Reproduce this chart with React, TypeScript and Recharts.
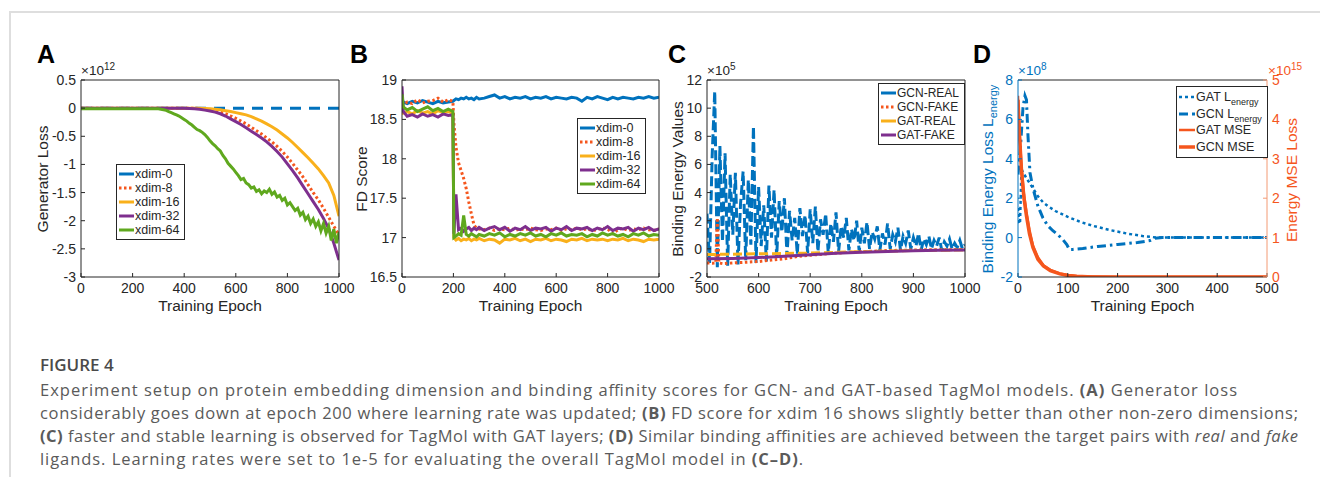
import type { ReactNode } from "react";
import { LineChart, Line, XAxis, YAxis, Legend } from "recharts";

const FONT = "'Liberation Sans', Arial, Helvetica, sans-serif";
const CAPTION_FONT = "'Open Sans', 'Noto Sans', sans-serif";
const AXIS = "#262626";
const BLUE = "#0072BD";
const ORANGE = "#F5561D";
const ORANGE_AXIS = "#F39A74";
const YELLOW = "#F9B01B";
const PURPLE = "#7E2F8E";
const GREEN = "#5FA81E";

const PLOT_TOP = 80;
const PLOT_H = 197;
const X_AXIS_H = 50;
const CHART_H = PLOT_TOP + PLOT_H + X_AXIS_H;

// ---- Panel A: generator loss (x 1e12) ----
const A_X_TICKS = [0, 200, 400, 600, 800, 1000];
const A_Y_TICKS = [-3, -2.5, -2, -1.5, -1, -0.5, 0, 0.5];
const A_EPOCH = [
  0, 20, 40, 60, 80, 100, 120, 140, 160, 180, 200, 220, 240, 260, 280, 300, 320,
  340, 360, 380, 400, 420, 440, 460, 480, 500, 520, 540, 560, 580, 600, 620, 640,
  660, 680, 700, 720, 740, 760, 780, 800, 820, 840, 860, 880, 900, 920, 940, 960,
  980, 1000,
];
const A_XDIM0_EPOCH = [0, 1000];
const A_XDIM0 = [0, 0];
const A_XDIM8 = [
  0, 0, 0, 0, 0, 0, 0, 0, 0, 0, 0, 0, 0, 0, 0, 0, 0, 0, 0, 0, 0, 0, 0,
  -0.01, -0.02, -0.035, -0.05, -0.07, -0.1, -0.14, -0.18, -0.23, -0.28,
  -0.34, -0.4, -0.46, -0.53, -0.6, -0.68, -0.77, -0.87, -0.98, -1.1,
  -1.22, -1.36, -1.5, -1.63, -1.78, -1.94, -2.1, -2.25,
];
const A_XDIM16 = [
  0, 0, 0, 0, 0, 0, 0, 0, 0, 0, 0, 0, 0, 0, 0, 0, 0, 0, 0, 0, 0, 0, 0,
  0, -0.005, -0.01, -0.02, -0.03, -0.045, -0.06, -0.08, -0.1, -0.12,
  -0.15, -0.19, -0.23, -0.28, -0.33, -0.39, -0.46, -0.53, -0.61, -0.7,
  -0.79, -0.88, -0.98, -1.08, -1.2, -1.33, -1.55, -1.92,
];
const A_XDIM32 = [
  0, 0, 0, 0, 0, 0, 0, 0, 0, 0, 0, 0, 0, 0, 0, 0, 0, 0, 0, 0,
  -0.003, -0.005, -0.01, -0.02, -0.035, -0.05, -0.07, -0.1, -0.14, -0.19,
  -0.24, -0.29, -0.35, -0.41, -0.47, -0.53, -0.6, -0.68, -0.77, -0.87,
  -0.99, -1.11, -1.24, -1.38, -1.52, -1.66, -1.8, -1.96, -2.14, -2.4, -2.7,
];
const A_XDIM64_EPOCH = [
  0, 100, 200, 290,
  300, 310, 320, 330, 340, 350, 360, 370, 380, 390,
  400, 410, 420, 430, 440, 450, 460, 470, 480, 490,
  500, 510, 520, 530, 540, 550, 560, 570, 580, 590,
  600, 610, 620, 630, 640, 650, 660, 670, 680, 690,
  700, 710, 720, 730, 740, 750, 760, 770, 780, 790,
  800, 810, 820, 830, 840, 850, 860, 870, 880, 890,
  900, 910, 920, 930, 940, 950, 960, 970, 980, 990, 1000,
];
const A_XDIM64 = [
  -0.01, -0.01, -0.01, -0.01,
  -0.01, -0.02, -0.03, -0.04, -0.06, -0.08, -0.1, -0.12, -0.14, -0.17,
  -0.2, -0.23, -0.27, -0.3, -0.34, -0.38, -0.4, -0.43, -0.47, -0.52,
  -0.58, -0.63, -0.67, -0.72, -0.76, -0.84, -0.9, -0.98, -1.03, -1.08,
  -1.14, -1.2, -1.27, -1.25, -1.33, -1.36, -1.42, -1.4, -1.48, -1.45,
  -1.52, -1.47, -1.5, -1.44, -1.53, -1.49, -1.58, -1.55, -1.64, -1.6,
  -1.72, -1.68, -1.75, -1.82, -1.78, -1.9, -1.85, -1.98, -1.92, -2.05,
  -1.97, -2.1, -2.02, -2.18, -2.05, -2.22, -2.1, -2.35, -2.15, -2.4, -2.2,
];

// ---- Panel B: FD score ----
const B_X_TICKS = [0, 200, 400, 600, 800, 1000];
const B_Y_TICKS = [16.5, 17, 17.5, 18, 18.5, 19];
const B_EPOCH = [
  0, 5, 20, 40, 60, 80, 100, 120, 140, 160, 180, 198, 202, 210, 220, 230, 240,
  250, 260, 270, 280, 290, 300,
  320, 340, 360, 380, 400, 420, 440, 460, 480, 500, 520, 540, 560, 580, 600,
  620, 640, 660, 680, 700, 720, 740, 760, 780, 800, 820, 840, 860, 880, 900,
  920, 940, 960, 980, 1000,
];
const B_XDIM0 = [
  18.75, 18.72, 18.7, 18.73, 18.71, 18.74, 18.72, 18.7, 18.73, 18.71, 18.72,
  18.73, 18.74, 18.76, 18.75, 18.77, 18.76, 18.78, 18.76, 18.77, 18.75, 18.78, 18.76,
  18.77, 18.79, 18.81, 18.77, 18.79, 18.76, 18.78, 18.77, 18.79, 18.76, 18.78,
  18.77, 18.79, 18.76, 18.78, 18.77, 18.76, 18.78, 18.77, 18.73, 18.78, 18.76,
  18.79, 18.77, 18.75, 18.78, 18.76, 18.78, 18.77, 18.76, 18.78, 18.77, 18.79,
  18.77, 18.78,
];
const B_XDIM8 = [
  18.7, 18.68, 18.72, 18.7, 18.75, 18.71, 18.73, 18.74, 18.77, 18.72, 18.75,
  18.73, 18.45, 18.15, 17.95, 17.85, 17.75, 17.62, 17.45, 17.3, 17.16, 17.12, 17.11,
  17.1, 17.12, 17.09, 17.11, 17.1, 17.12, 17.09, 17.11, 17.1, 17.12, 17.1,
  17.09, 17.11, 17.1, 17.12, 17.09, 17.11, 17.1, 17.12, 17.1, 17.11, 17.09,
  17.1, 17.12, 17.11, 17.05, 17.1, 17.12, 17.09, 17.11, 17.1, 17.12, 17.1,
  17.09, 17.11,
];
const B_XDIM16 = [
  18.62, 18.58, 18.6, 18.57, 18.61, 18.58, 18.6, 18.57, 18.61, 18.59, 18.6,
  18.58, 17.0, 16.97, 16.99, 16.96, 16.98, 16.97, 16.99, 16.96, 16.98, 16.97, 16.99,
  16.96, 16.98, 16.97, 16.93, 16.98, 16.97, 16.99, 16.96, 16.98, 16.95, 16.98,
  16.97, 16.99, 16.96, 16.98, 16.97, 16.95, 16.98, 16.97, 16.99, 16.96, 16.98,
  16.97, 16.98, 16.96, 16.98, 16.97, 16.99, 16.96, 16.98, 16.97, 16.95, 16.98,
  16.97, 16.98,
];
const B_XDIM32 = [
  18.92, 18.6, 18.54, 18.56, 18.53, 18.57, 18.54, 18.56, 18.53, 18.57, 18.55,
  18.56, 17.05, 17.55, 17.1, 17.12, 17.08, 17.11, 17.13, 17.09, 17.12, 17.1, 17.13,
  17.09, 17.12, 17.14, 17.1, 17.13, 17.08, 17.12, 17.1, 17.14, 17.09, 17.12,
  17.11, 17.13, 17.08, 17.12, 17.1, 17.14, 17.09, 17.12, 17.11, 17.13, 17.09,
  17.12, 17.1, 17.14, 17.09, 17.12, 17.11, 17.13, 17.08, 17.12, 17.1, 17.13,
  17.09, 17.11,
];
const B_XDIM64 = [
  18.82, 18.66, 18.62, 18.65, 18.6, 18.63, 18.66, 18.61, 18.64, 18.6, 18.63,
  18.6, 17.0, 17.02, 17.05, 17.03, 17.28, 17.04, 17.02, 17.05, 17.03, 17.01, 17.04,
  17.02, 17.05, 17.03, 17.06, 17.01, 17.04, 17.02, 17.05, 17.03, 17.06, 17.02,
  17.04, 17.01, 17.05, 17.03, 17.06, 17.02, 17.04, 17.03, 17.05, 17.01, 17.04,
  17.02, 17.06, 17.03, 17.05, 17.02, 17.04, 17.01, 17.05, 17.03, 17.06, 17.02,
  17.04, 17.03,
];

// ---- Panel C: binding energy values (x 1e5) ----
const C_X_TICKS = [500, 600, 700, 800, 900, 1000];
const C_Y_TICKS = [-2, 0, 2, 4, 6, 8, 10, 12];
const C_REAL_EPOCH = [
  500, 505, 510, 515, 520, 525, 530, 535, 540, 545,
  550, 555, 560, 565, 570, 575, 580, 585, 590, 595,
  600, 605, 610, 615, 620, 625, 630, 635, 640, 645,
  650, 655, 660, 665, 670, 675, 680, 685, 690, 695,
  700, 705, 710, 715, 720, 725, 730, 735, 740, 745,
  750, 755, 760, 765, 770, 775, 780, 785, 790, 795,
  800, 805, 810, 815, 820, 825, 830, 835, 840, 845,
  850, 855, 860, 865, 870, 875, 880, 885, 890, 895,
  900, 905, 910, 915, 920, 925, 930, 935, 940, 945,
  950, 955, 960, 965, 970, 975, 980, 985, 990, 995, 1000,
];
const C_GCN_REAL = [
  2.5, -1.0, 6.6, 11.2, -1.3, 7.3, 0.5, 6.8, -1.2, 5.3,
  1.0, 5.4, -1.1, 3.2, 5.5, -0.8, 4.9, 0.3, 8.7, -1.0,
  4.4, 0.2, 3.1, -0.9, 4.5, 0.8, 4.2, -0.6, 3.4, 1.2,
  3.6, -0.5, 2.7, 0.6, 2.2, -0.4, 2.9, 0.9, 2.4, -0.3,
  2.8, 0.4, 3.0, -0.2, 2.1, 1.0, 2.5, -0.3, 1.8, 0.5,
  2.6, -0.2, 1.6, 0.8, 2.2, -0.1, 1.4, 0.6, 2.0, -0.2,
  1.5, 0.4, 1.9, 0.0, 1.2, 0.7, 1.6, -0.1, 1.1, 0.3,
  1.8, 0.0, 1.0, 0.5, 1.5, -0.1, 0.9, 0.4, 1.3, 0.0,
  0.8, 0.2, 1.1, -0.1, 0.7, 0.3, 0.9, 0.0, 0.6, 0.2,
  0.8, -0.1, 0.5, 0.2, 0.7, 0.0, 0.4, 0.1, 0.6, 0.0, 0.3,
];
const C_FAKE_EPOCH = [500, 510, 517, 520, 523, 530, 550, 575, 600, 625, 650, 675, 700, 750, 800, 850, 900, 950, 1000];
const C_GCN_FAKE = [-1.0, -1.02, -1.0, 2.2, -1.0, -1.05, -1.0, -0.95, -0.9, -0.8, -0.7, -0.55, -0.45, -0.3, -0.2, -0.12, -0.08, -0.06, -0.05];
const C_GAT_EPOCH = [500, 550, 600, 650, 700, 750, 800, 850, 900, 950, 1000];
const C_GAT_REAL = [-0.4, -0.38, -0.35, -0.33, -0.3, -0.25, -0.2, -0.16, -0.12, -0.1, -0.08];
const C_GAT_FAKE = [-0.7, -0.68, -0.62, -0.52, -0.42, -0.32, -0.24, -0.18, -0.13, -0.1, -0.08];

// ---- Panel D: energy loss (x 1e8, left) and MSE (x 1e15, right) ----
const D_X_TICKS = [0, 100, 200, 300, 400, 500];
const D_Y_TICKS = [-2, 0, 2, 4, 6, 8];
const D_Y2_TICKS = [0, 1, 2, 3, 4, 5];
const D_GAT_L_EPOCH = [0, 2, 4, 7, 10, 15, 20, 30, 40, 50, 60, 75, 100, 125, 150, 185, 220, 250, 280, 300, 400, 500];
const D_GAT_L = [1.5, 0.8, 0.7, 3.5, 3.3, 3.1, 2.9, 2.5, 2.1, 1.8, 1.6, 1.35, 1.05, 0.8, 0.6, 0.38, 0.2, 0.08, 0.0, 0, 0, 0];
const D_GCN_L_EPOCH = [0, 5, 10, 14, 17, 20, 24, 30, 40, 50, 60, 70, 80, 90, 98, 103, 110, 130, 160, 200, 240, 265, 275, 290, 400, 500];
const D_GCN_L = [3.2, 4.6, 6.6, 7.2, 7.0, 5.2, 3.3, 2.5, 1.6, 1.0, 0.6, 0.35, 0.15, -0.1, -0.35, -0.6, -0.6, -0.55, -0.45, -0.35, -0.25, -0.15, -0.03, 0, 0, 0];
const D_MSE_EPOCH = [0, 3, 7, 12, 17, 23, 30, 40, 51, 65, 84, 100, 118, 150, 200, 300, 400, 500];
const D_GAT_MSE = [4.6, 3.7, 2.8, 2.1, 1.65, 1.2, 0.8, 0.5, 0.3, 0.18, 0.09, 0.05, 0.02, 0.01, 0, 0, 0, 0];
const D_GCN_MSE = [4.5, 3.6, 2.7, 2.0, 1.55, 1.1, 0.75, 0.45, 0.28, 0.16, 0.08, 0.04, 0.02, 0, 0, 0, 0, 0];

interface Series {
  name: string;
  label: ReactNode;
  xs: number[];
  ys: number[];
  color: string;
  width: number;
  dash?: string;
  legendDash?: string;
  right?: boolean;
}

const pts = (xs: number[], ys: number[]) => xs.map((x, i) => ({ x, y: ys[i] }));

const energySub = (txt: string) => (
  <>
    {txt} L<sub style={{ fontSize: 9, lineHeight: 0 }}>energy</sub>
  </>
);

const A_SERIES: Series[] = [
  { name: "xdim-0", label: "xdim-0", xs: A_XDIM0_EPOCH, ys: A_XDIM0, color: BLUE, width: 3, dash: "11 8", legendDash: "none" },
  { name: "xdim-8", label: "xdim-8", xs: A_EPOCH, ys: A_XDIM8, color: ORANGE, width: 3, dash: "2.5 2.5" },
  { name: "xdim-16", label: "xdim-16", xs: A_EPOCH, ys: A_XDIM16, color: YELLOW, width: 3 },
  { name: "xdim-32", label: "xdim-32", xs: A_EPOCH, ys: A_XDIM32, color: PURPLE, width: 3 },
  { name: "xdim-64", label: "xdim-64", xs: A_XDIM64_EPOCH, ys: A_XDIM64, color: GREEN, width: 3 },
];

const B_SERIES: Series[] = [
  { name: "xdim-0", label: "xdim-0", xs: B_EPOCH, ys: B_XDIM0, color: BLUE, width: 3 },
  { name: "xdim-8", label: "xdim-8", xs: B_EPOCH, ys: B_XDIM8, color: ORANGE, width: 3, dash: "2.5 2.5" },
  { name: "xdim-16", label: "xdim-16", xs: B_EPOCH, ys: B_XDIM16, color: YELLOW, width: 3 },
  { name: "xdim-32", label: "xdim-32", xs: B_EPOCH, ys: B_XDIM32, color: PURPLE, width: 3 },
  { name: "xdim-64", label: "xdim-64", xs: B_EPOCH, ys: B_XDIM64, color: GREEN, width: 3 },
];

const C_SERIES: Series[] = [
  { name: "GCN-REAL", label: "GCN-REAL", xs: C_REAL_EPOCH, ys: C_GCN_REAL, color: BLUE, width: 3, dash: "10 4", legendDash: "none" },
  { name: "GCN-FAKE", label: "GCN-FAKE", xs: C_FAKE_EPOCH, ys: C_GCN_FAKE, color: ORANGE, width: 3, dash: "2.5 2.5" },
  { name: "GAT-REAL", label: "GAT-REAL", xs: C_GAT_EPOCH, ys: C_GAT_REAL, color: YELLOW, width: 3, dash: "9 4", legendDash: "none" },
  { name: "GAT-FAKE", label: "GAT-FAKE", xs: C_GAT_EPOCH, ys: C_GAT_FAKE, color: PURPLE, width: 3 },
];

const D_SERIES: Series[] = [
  { name: "GAT L", label: energySub("GAT"), xs: D_GAT_L_EPOCH, ys: D_GAT_L, color: BLUE, width: 2.5, dash: "3 3" },
  { name: "GCN L", label: energySub("GCN"), xs: D_GCN_L_EPOCH, ys: D_GCN_L, color: BLUE, width: 3, dash: "9 4 2.5 4", legendDash: "9 4" },
  { name: "GAT MSE", label: "GAT MSE", xs: D_MSE_EPOCH, ys: D_GAT_MSE, color: ORANGE, width: 2.5, right: true },
  { name: "GCN MSE", label: "GCN MSE", xs: D_MSE_EPOCH, ys: D_GCN_MSE, color: ORANGE, width: 3.5, right: true },
];

function LegendBox({ series, rowH, sample, size }: { series: Series[]; rowH: number; sample: number; size: number }) {
  return (
    <div
      style={{
        border: `1px solid ${AXIS}`,
        background: "#fff",
        padding: "2px 5px 2px 2px",
        fontFamily: FONT,
        fontSize: size,
        lineHeight: `${rowH}px`,
        color: AXIS,
      }}
    >
      {series.map((s) => (
        <div key={s.name} style={{ display: "flex", alignItems: "center", whiteSpace: "nowrap" }}>
          <svg width={sample} height={6} style={{ marginRight: 1, flex: "none" }}>
            <line
              x1={0}
              y1={3}
              x2={sample}
              y2={3}
              stroke={s.color}
              strokeWidth={s.width}
              strokeDasharray={s.legendDash ?? s.dash}
            />
          </svg>
          <span>{s.label}</span>
        </div>
      ))}
    </div>
  );
}

interface PanelProps {
  left: number;
  yAxisW: number;
  plotW: number;
  xDomain: [number, number];
  xTicks: number[];
  yDomain: [number, number];
  yTicks: number[];
  yColor?: string;
  right?: { domain: [number, number]; ticks: number[]; width: number };
  series: Series[];
  legend: { left: number; top: number; rowH: number; sample: number; size: number };
}

function Panel(p: PanelProps) {
  const rightW = p.right ? p.right.width : 1;
  const mr = 4;
  const width = p.yAxisW + p.plotW + rightW + mr;
  const yColor = p.yColor ?? AXIS;
  const tick = (fill: string) => ({ fontSize: 14, fill, fontFamily: FONT });
  return (
    <div style={{ position: "absolute", left: p.left, top: 0 }}>
      <LineChart width={width} height={CHART_H} margin={{ top: PLOT_TOP - 1, right: mr, bottom: 0, left: 0 }}>
        <XAxis
          xAxisId="b"
          dataKey="x"
          type="number"
          domain={p.xDomain}
          ticks={p.xTicks}
          interval={0}
          allowDataOverflow
          height={X_AXIS_H}
          stroke={AXIS}
          tickSize={-4}
          tickMargin={10}
          tick={tick(AXIS)}
        />
        <XAxis
          xAxisId="t"
          orientation="top"
          dataKey="x"
          type="number"
          domain={p.xDomain}
          ticks={p.xTicks}
          interval={0}
          allowDataOverflow
          height={1}
          stroke={AXIS}
          tickSize={-4}
          tick={false}
        />
        <YAxis
          yAxisId="l"
          type="number"
          domain={p.yDomain}
          ticks={p.yTicks}
          interval={0}
          allowDataOverflow
          width={p.yAxisW}
          stroke={yColor}
          tickSize={-4}
          tickMargin={9}
          tick={tick(yColor)}
        />
        {p.right ? (
          <YAxis
            yAxisId="r"
            orientation="right"
            type="number"
            domain={p.right.domain}
            ticks={p.right.ticks}
            interval={0}
            allowDataOverflow
            width={p.right.width}
            stroke={ORANGE_AXIS}
            tickSize={-4}
            tickMargin={9}
            tick={tick(ORANGE)}
          />
        ) : (
          <YAxis
            yAxisId="r"
            orientation="right"
            type="number"
            domain={p.yDomain}
            ticks={p.yTicks}
            interval={0}
            allowDataOverflow
            width={1}
            stroke={AXIS}
            tickSize={-4}
            tick={false}
          />
        )}
        {p.series.map((s) => (
          <Line
            key={s.name}
            name={s.name}
            data={pts(s.xs, s.ys)}
            dataKey="y"
            xAxisId="b"
            yAxisId={s.right ? "r" : "l"}
            type="linear"
            stroke={s.color}
            strokeWidth={s.width}
            strokeDasharray={s.dash}
            dot={false}
            activeDot={false}
            isAnimationActive={false}
          />
        ))}
        <Legend
          layout="vertical"
          align="center"
          verticalAlign="middle"
          wrapperStyle={{ left: p.legend.left, top: p.legend.top, width: "auto" }}
          content={() => (
            <LegendBox series={p.series} rowH={p.legend.rowH} sample={p.legend.sample} size={p.legend.size} />
          )}
        />
      </LineChart>
    </div>
  );
}

function Txt({ x, y, children, rotate, color = AXIS, size = 15.5 }: { x: number; y: number; children: ReactNode; rotate?: boolean; color?: string; size?: number }) {
  return (
    <div
      style={{
        position: "absolute",
        left: x,
        top: y,
        transform: `translate(-50%, -50%)${rotate ? " rotate(-90deg)" : ""}`,
        whiteSpace: "nowrap",
        fontFamily: FONT,
        fontSize: size,
        color,
        lineHeight: 1,
      }}
    >
      {children}
    </div>
  );
}

function Multiplier({ x, exp, color = AXIS }: { x: number; exp: string; color?: string }) {
  return (
    <div style={{ position: "absolute", left: x, top: 64, fontFamily: FONT, fontSize: 13.5, lineHeight: "13px", color, whiteSpace: "nowrap" }}>
      ×10<sup style={{ fontSize: 10, lineHeight: 0 }}>{exp}</sup>
    </div>
  );
}

function PanelLetter({ x, children }: { x: number; children: ReactNode }) {
  return (
    <div style={{ position: "absolute", left: x, top: 42, fontFamily: FONT, fontWeight: 700, fontSize: 25, lineHeight: 1, color: "#000" }}>
      {children}
    </div>
  );
}

export default function App() {
  return (
    <div style={{ position: "absolute", left: 0, top: 0, width: 1320, height: 477, background: "#fff", overflow: "hidden" }}>
      <style>{".recharts-surface{overflow:visible}"}</style>
      <div style={{ position: "absolute", left: 9, top: 11, width: 1311, height: 2, background: "#dedede" }} />
      <div style={{ position: "absolute", left: 9, top: 11, width: 2, height: 466, background: "#dedede" }} />

      <Panel
        left={0}
        yAxisW={81}
        plotW={258}
        xDomain={[0, 1000]}
        xTicks={A_X_TICKS}
        yDomain={[-3, 0.5]}
        yTicks={A_Y_TICKS}
        series={A_SERIES}
        legend={{ left: 116, top: 164, rowH: 14, sample: 15, size: 12.5 }}
      />
      <Panel
        left={345}
        yAxisW={57}
        plotW={257}
        xDomain={[0, 1000]}
        xTicks={B_X_TICKS}
        yDomain={[16.5, 19]}
        yTicks={B_Y_TICKS}
        series={B_SERIES}
        legend={{ left: 232, top: 118, rowH: 14, sample: 15, size: 12.5 }}
      />
      <Panel
        left={665}
        yAxisW={42}
        plotW={258}
        xDomain={[500, 1000]}
        xTicks={C_X_TICKS}
        yDomain={[-2, 12]}
        yTicks={C_Y_TICKS}
        series={C_SERIES}
        legend={{ left: 213, top: 83, rowH: 14, sample: 15, size: 12 }}
      />
      <Panel
        left={971}
        yAxisW={47}
        plotW={249}
        xDomain={[0, 500]}
        xTicks={D_X_TICKS}
        yDomain={[-2, 8]}
        yTicks={D_Y_TICKS}
        yColor={BLUE}
        right={{ domain: [0, 5], ticks: D_Y2_TICKS, width: 45 }}
        series={D_SERIES}
        legend={{ left: 205, top: 86, rowH: 16.5, sample: 16, size: 12.5 }}
      />

      <PanelLetter x={37}>A</PanelLetter>
      <PanelLetter x={350}>B</PanelLetter>
      <PanelLetter x={668}>C</PanelLetter>
      <PanelLetter x={973}>D</PanelLetter>

      <Multiplier x={81} exp="12" />
      <Multiplier x={707} exp="5" />
      <Multiplier x={1018} exp="8" color={BLUE} />
      <Multiplier x={1268} exp="15" color={ORANGE} />

      <Txt x={43} y={178.5} rotate>Generator Loss</Txt>
      <Txt x={362} y={178.5} rotate>FD Score</Txt>
      <Txt x={678} y={178.5} rotate>Binding Energy Values</Txt>
      <Txt x={988} y={179} rotate color={BLUE}>
        Binding Energy Loss L<sub style={{ fontSize: 11, lineHeight: 0 }}>energy</sub>
      </Txt>
      <Txt x={1292} y={180} rotate color={ORANGE}>Energy MSE Loss</Txt>

      <Txt x={210} y={306}>Training Epoch</Txt>
      <Txt x={530.5} y={306}>Training Epoch</Txt>
      <Txt x={836} y={306}>Training Epoch</Txt>
      <Txt x={1142.5} y={306}>Training Epoch</Txt>

      <svg width={1320} height={140} style={{ position: "absolute", left: 0, top: 337 }} fontFamily={CAPTION_FONT}>
        <text x={40} y={34} fontSize={17} fontWeight={600} fill="#4a4a4a">
          FIGURE 4
        </text>
        <text x={40} y={59} fontSize={16.5} fill="#5a5a5a" textLength={1197} lengthAdjust="spacing">
          {"Experiment setup on protein embedding dimension and binding affinity scores for GCN- and GAT-based TagMol models. "}
          <tspan fontWeight={700}>(A)</tspan>
          {" Generator loss"}
        </text>
        <text x={40} y={82} fontSize={16.5} fill="#5a5a5a" textLength={1258} lengthAdjust="spacing">
          {"considerably goes down at epoch 200 where learning rate was updated; "}
          <tspan fontWeight={700}>(B)</tspan>
          {" FD score for xdim 16 shows slightly better than other non-zero dimensions;"}
        </text>
        <text x={40} y={105} fontSize={16.5} fill="#5a5a5a" textLength={1258} lengthAdjust="spacing">
          <tspan fontWeight={700}>(C)</tspan>
          {" faster and stable learning is observed for TagMol with GAT layers; "}
          <tspan fontWeight={700}>(D)</tspan>
          {" Similar binding affinities are achieved between the target pairs with "}
          <tspan fontStyle="italic">real</tspan>
          {" and "}
          <tspan fontStyle="italic">fake</tspan>
        </text>
        <text x={40} y={128} fontSize={16.5} fill="#5a5a5a" textLength={763} lengthAdjust="spacing">
          {"ligands. Learning rates were set to 1e-5 for evaluating the overall TagMol model in "}
          <tspan fontWeight={700}>(C–D)</tspan>
          {"."}
        </text>
      </svg>
    </div>
  );
}
